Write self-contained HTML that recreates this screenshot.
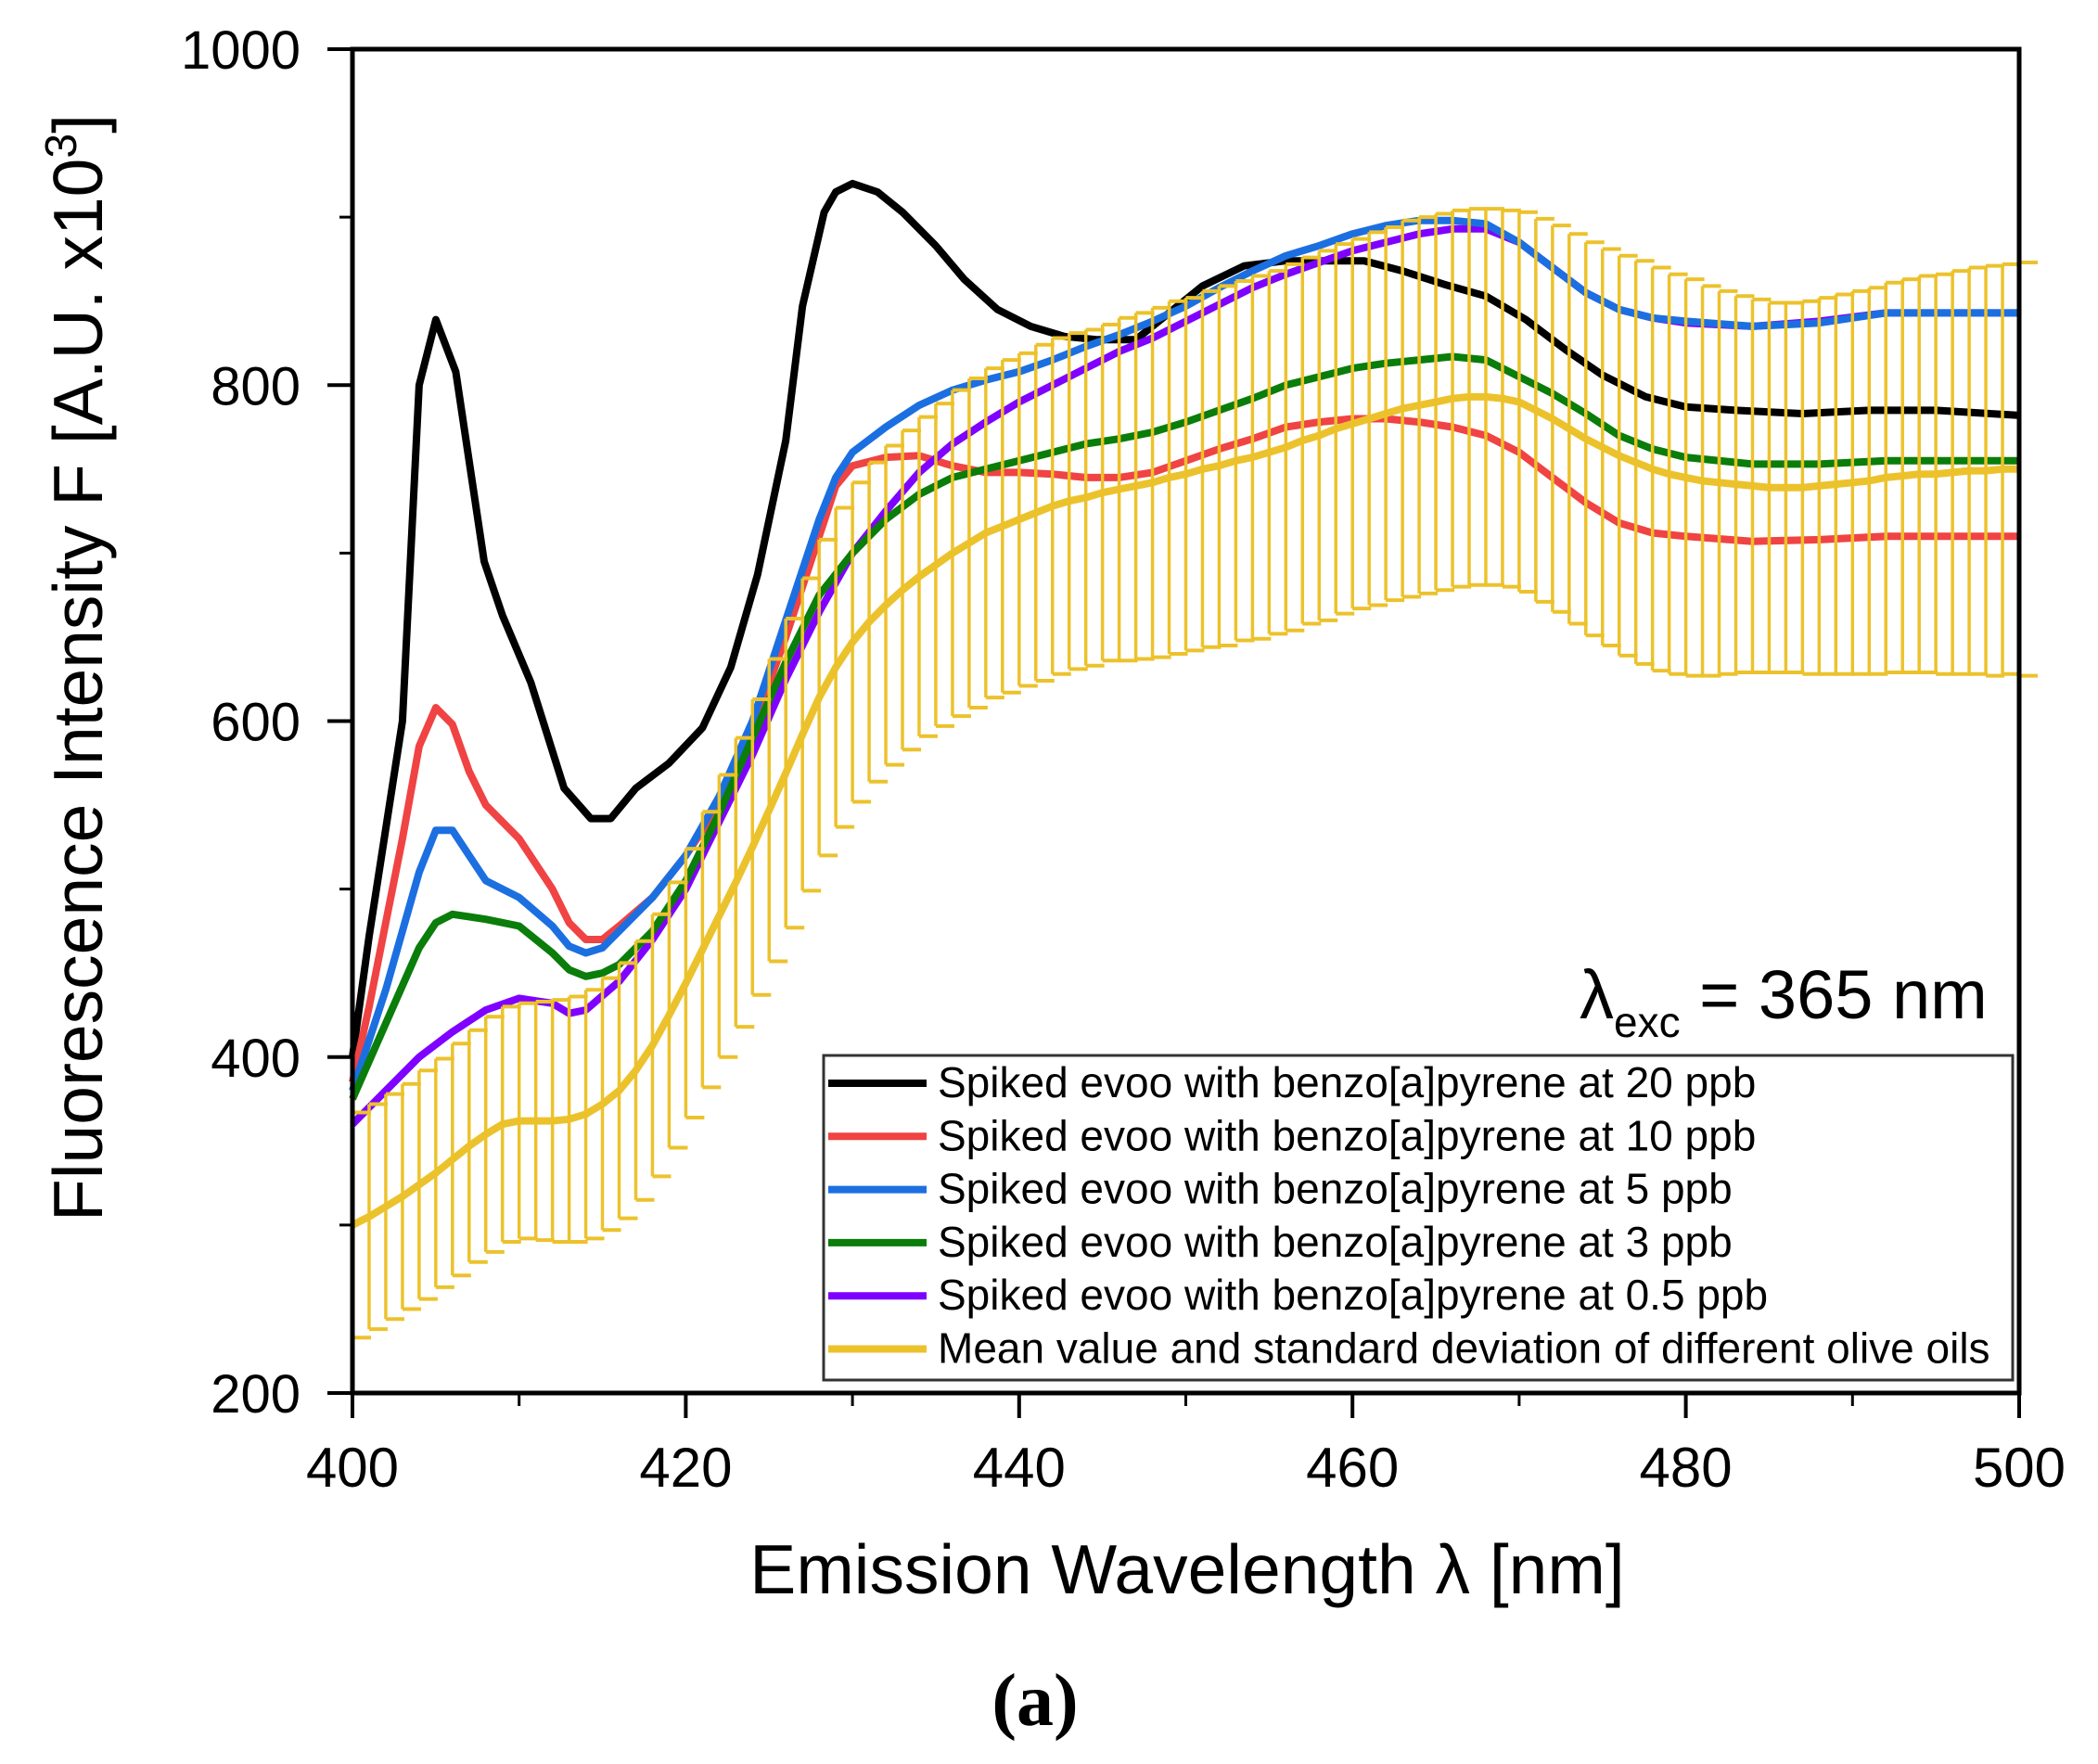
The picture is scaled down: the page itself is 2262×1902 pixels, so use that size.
<!DOCTYPE html>
<html><head><meta charset="utf-8"><style>
html,body{margin:0;padding:0;background:#fff;}
svg{display:block;font-family:"Liberation Sans",Arial,sans-serif;}
</style></head><body>
<svg id="chart" width="2262" height="1902" viewBox="0 0 2262 1902" xmlns="http://www.w3.org/2000/svg">
<rect x="0" y="0" width="2262" height="1902" fill="#fff"/>
<g id="marks"></g>
<g id="axes"></g>
<g id="legend"></g>
<text x="1703" y="1098" font-size="74" fill="#000">λ<tspan font-size="46" dy="20">exc</tspan><tspan dy="-20"> = 365 nm</tspan></text>
<text x="1280" y="1718" font-size="75" text-anchor="middle" fill="#000">Emission Wavelength λ [nm]</text>
<text transform="translate(110,720) rotate(-90)" font-size="75" text-anchor="middle" fill="#000">Fluorescence Intensity F [A.U. x10<tspan font-size="48" dy="-28">3</tspan><tspan dy="28">]</tspan></text>
<text x="1116" y="1860" font-size="80" font-weight="bold" text-anchor="middle" font-family="Liberation Serif, serif" fill="#000">(a)</text>
</svg>
<script>
const xTicks=[400,420,440,460,480,500];
const xMinor=[410,430,450,470,490];
const yTicks=[200,400,600,800,1000];
const yMinor=[300,500,700,900];
const blackX=[400,401,403,404,405,406.2,407.9,409,410.7,412.7,414.3,415.5,417,419,421,422.7,424.3,426,427,428.3,429,430,431.5,433,435,436.7,438.7,440.7,442.7,444.7,447,449,451,453.5,456,458.3,460.7,463,465.5,468,470.4,472.8,475,477.6,480,483,487,491,495,500];
const blackY=[400,472,600,800,839,808,695,663,623,560,542,542,560,575,596,632,687,767,847,903,915,920,915,903,883,863,845,835,829,827,827,843,859,871,874,874,874,868,860,853,839,821,806,793,787,785,783,785,785,782];
const redX=[400,401,402,403,404,405,406,407,408,410,412,413,414,415,416,418,420,422,424,426,428,429,430,432,434,436,438,440,442,444,446,448,450,452,454,456,458,460,462,464,466,468,470,472,474,476,478,480,484,488,492,496,500];
const redY=[385,430,480,530,585,608,598,570,550,530,500,480,470,470,478,495,520,550,595,650,710,740,752,757,758,752,748,748,747,745,745,748,755,762,768,775,778,780,780,778,775,770,760,745,730,718,712,710,707,708,710,710,710];
const blueX=[400,402,404,405,406,407,408,410,412,413,414,415,416,418,420,422,424,426,428,429,430,432,434,436,438,440,442,444,446,448,450,452,454,456,458,460,462,464,466,468,470,472,474,476,478,480,484,488,492,496,500];
const blueY=[380,440,510,535,535,520,505,495,478,466,462,465,475,495,520,555,600,660,720,745,760,775,788,797,803,808,815,823,830,838,847,858,868,877,883,890,895,898,898,896,885,870,855,845,840,838,835,837,843,843,843];
const greenX=[400,402,404,405,406,408,410,412,413,414,415,416,418,420,422,424,426,428,430,432,434,436,438,440,442,444,446,448,450,452,454,456,458,460,462,464,466,468,470,472,474,476,478,480,484,488,492,496,500];
const greenY=[375,420,465,480,485,482,478,462,452,448,450,455,475,505,545,590,635,675,700,720,735,745,750,755,760,765,768,772,778,785,792,800,805,810,813,815,817,815,805,795,783,770,762,757,753,753,755,755,755];
const purpleX=[400,402,404,406,408,410,412,413,414,416,418,420,422,424,426,428,430,432,434,436,438,440,442,444,446,448,450,452,454,456,458,460,462,464,466,468,470,472,474,476,478,480,484,488,492,496,500];
const purpleY=[360,380,400,415,428,435,432,426,428,445,470,500,540,580,625,665,700,725,748,765,778,790,800,810,820,828,838,848,858,866,873,880,885,890,893,893,885,870,855,845,840,837,835,838,843,843,843];
const meanX=[400,401,402,403,404,405,406,407,408,409,410,411,412,413,414,415,416,417,418,419,420,421,422,423,424,425,426,427,428,429,430,431,432,433,434,435,436,437,438,439,440,441,442,443,444,445,446,447,448,449,450,451,452,453,454,455,456,457,458,459,460,461,462,463,464,465,466,467,468,469,470,471,472,473,474,475,476,477,478,479,480,481,482,483,484,485,486,487,488,489,490,491,492,493,494,495,496,497,498,499,500];
const meanY=[300,305,311,317,324,331,339,347,354,360,362,362,362,363,366,372,380,392,407,425,444,464,484,504,525,547,569,592,614,632,647,659,669,678,686,693,700,706,712,716,720,724,728,731,733,736,738,740,742,745,747,750,752,755,757,760,763,767,770,774,777,780,783,786,788,790,792,793,793,792,790,785,780,774,768,763,758,754,750,747,745,743,742,741,740,739,739,739,740,741,742,743,745,746,747,747,748,749,749,750,750];
const meanSD=[67,67,67,67,68,68,69,69,70,70,70,71,72,73,74,75,76,77,78,79,80,82,84,86,88,90,92,93,94,95,95,95,95,95,95,96,97,98,98,99,99,100,100,100,100,100,102,103,104,105,105,106,107,107,108,108,109,109,110,110,110,111,111,112,112,112,112,112,112,112,113,114,115,116,117,118,119,120,120,119,118,116,114,112,111,110,110,111,112,113,114,115,116,117,118,119,120,121,122,122,123];
const legendLabels=["Spiked evoo with benzo[a]pyrene at 20 ppb","Spiked evoo with benzo[a]pyrene at 10 ppb","Spiked evoo with benzo[a]pyrene at  5 ppb","Spiked evoo with benzo[a]pyrene at  3 ppb","Spiked evoo with benzo[a]pyrene at 0.5 ppb","Mean value and standard deviation of different olive oils"];

const NS='http://www.w3.org/2000/svg';
const X0=380,X1=2177,Y0=1502,Y1=53;
function xs(v){return X0+(v-400)/100*(X1-X0);}
function ys(v){return Y0-(v-200)/800*(Y0-Y1);}
function mk(tag,attrs,parent){const e=document.createElementNS(NS,tag);for(const k in attrs)e.setAttribute(k,attrs[k]);parent.appendChild(e);return e;}
const marks=document.getElementById('marks'),axes=document.getElementById('axes'),legend=document.getElementById('legend');

function series(xa,ya,color,name){
  const d=xa.map((x,i)=>(i?'L':'M')+xs(x).toFixed(1)+' '+ys(ya[i]).toFixed(1)).join(' ');
  const p=mk('path',{d:d,fill:'none',stroke:color,'stroke-width':8,'stroke-linejoin':'round'},marks);
  
  
}
series(blackX,blackY,'#000','line-20ppb');
series(redX,redY,'#f04343','line-10ppb');
series(purpleX,purpleY,'#7f00ff','line-0-5ppb');
series(blueX,blueY,'#1c6fe0','line-5ppb');
series(greenX,greenY,'#0a7d0a','line-3ppb');

const eb=mk('g',{},marks);


meanX.forEach((x,i)=>{
  const cx=xs(x),top=ys(meanY[i]+meanSD[i]),bot=ys(meanY[i]-meanSD[i]);
  const l=mk('line',{x1:cx,x2:cx,y1:top,y2:bot,stroke:'#ecc22c','stroke-width':3.5},eb);
  
  
  mk('line',{x1:cx,x2:cx+20,y1:top,y2:top,stroke:'#ecc22c','stroke-width':4},eb);
  mk('line',{x1:cx,x2:cx+20,y1:bot,y2:bot,stroke:'#ecc22c','stroke-width':4},eb);
});
series(meanX,meanY,'#ecc22c','line-mean');

mk('rect',{x:X0,y:Y1,width:X1-X0,height:Y0-Y1,fill:'none',stroke:'#000','stroke-width':5},axes);
xTicks.forEach(v=>{
  const x=xs(v);
  mk('line',{x1:x,x2:x,y1:Y0,y2:Y0+27,stroke:'#000','stroke-width':4},axes);
  const t=mk('text',{x:x,y:1603,'font-size':60,'text-anchor':'middle'},axes);
  t.textContent=v;
  
  
});
xMinor.forEach(v=>{const x=xs(v);mk('line',{x1:x,x2:x,y1:Y0,y2:Y0+14,stroke:'#000','stroke-width':3},axes);});
yTicks.forEach(v=>{
  const y=ys(v);
  mk('line',{x1:X0-27,x2:X0,y1:y,y2:y,stroke:'#000','stroke-width':4},axes);
  const t=mk('text',{x:324,y:y+21,'font-size':58,'text-anchor':'end'},axes);
  t.textContent=v;
  
  
});
yMinor.forEach(v=>{const y=ys(v);mk('line',{x1:X0-14,x2:X0,y1:y,y2:y,stroke:'#000','stroke-width':3},axes);});

mk('rect',{x:888,y:1138,width:1282,height:350,fill:'#fff',stroke:'#333','stroke-width':3},legend);
const lcolors=['#000','#f04343','#1c6fe0','#0a7d0a','#7f00ff','#ecc22c'];
legendLabels.forEach((lab,i)=>{
  const y=1168+i*57.3;
  const g=mk('g',{},legend);
  
  
  mk('line',{x1:893,x2:999,y1:y,y2:y,stroke:lcolors[i],'stroke-width':8},g);
  const t=mk('text',{x:1011,y:y+15,'font-size':46,'xml:space':'preserve'},g);
  t.textContent=lab;
});
</script>
</body></html>
